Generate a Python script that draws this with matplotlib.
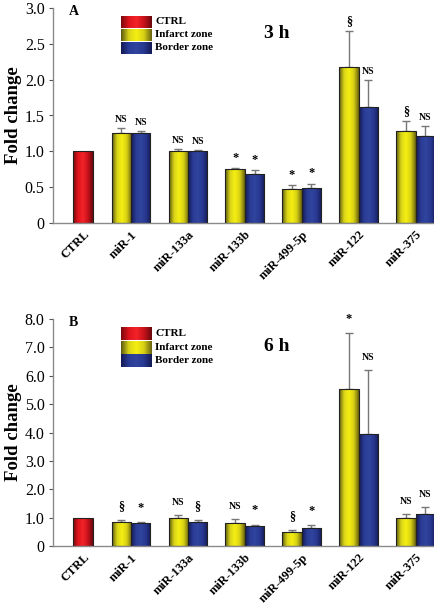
import matplotlib
matplotlib.use('Agg')
import matplotlib.pyplot as plt
from matplotlib.colors import LinearSegmentedColormap
import numpy as np

plt.rcParams['font.family'] = ['Liberation Serif', 'DejaVu Serif']

# data
mirnas = ['miR-1', 'miR-133a', 'miR-133b', 'miR-499-5p', 'miR-122', 'miR-375']
ctrl_val = 1.0

inf_3h = [1.26, 1.01, 0.75, 0.47, 2.18, 1.29]
inf_3h_err = [0.06, 0.02, 0.02, 0.06, 0.50, 0.13]
bor_3h = [1.25, 1.00, 0.69, 0.49, 1.62, 1.22]
bor_3h_err = [0.03, 0.02, 0.05, 0.06, 0.37, 0.13]
inf_3h_sig = ['NS', 'NS', '*', '*', '§', '§']
bor_3h_sig = ['NS', 'NS', '*', '*', 'NS', 'NS']

inf_6h = [0.83, 0.97, 0.82, 0.50, 5.55, 1.00]
inf_6h_err = [0.07, 0.11, 0.12, 0.06, 1.94, 0.12]
bor_6h = [0.80, 0.83, 0.70, 0.62, 3.93, 1.13]
bor_6h_err = [0.05, 0.07, 0.05, 0.12, 2.27, 0.23]
inf_6h_sig = ['§', 'NS', 'NS', '§', '*', 'NS']
bor_6h_sig = ['*', '§', '*', '*', 'NS', 'NS']

cmap_red = LinearSegmentedColormap.from_list('r', ['#7a0a0e', '#e0141c', '#f4232a', '#c8121a', '#6a080c'])
cmap_yel = LinearSegmentedColormap.from_list('y', ['#5e5a10', '#d8d418', '#f6ef12', '#d6cf14', '#6a6410'])
cmap_blu = LinearSegmentedColormap.from_list('b', ['#141a55', '#2a3c96', '#30449e', '#283890', '#141a55'])
grad = np.linspace(0, 1, 64).reshape(1, -1)

W = 0.34
ctrl_x = 0.16
gx = np.arange(1, len(mirnas) + 1)


def grad_bars(ax, x, h, cmap):
    bars = ax.bar(x, h, width=W, facecolor='none', edgecolor='#222222', linewidth=0.8, zorder=3)
    for b in bars:
        x0, y0 = b.get_x(), b.get_y()
        im = ax.imshow(grad, cmap=cmap, aspect='auto', zorder=2,
                       extent=[x0, x0 + b.get_width(), y0, y0 + b.get_height()])
        im.set_clip_path(b)
    return bars


def panel(ax, inf, inf_err, bor, bor_err, inf_sig, bor_sig, ymax, yticks, ylabels,
          letter, title, off):
    grad_bars(ax, [ctrl_x], [ctrl_val], cmap_red)
    xi = gx - W / 2
    xb = gx + W / 2
    grad_bars(ax, xi, inf, cmap_yel)
    grad_bars(ax, xb, bor, cmap_blu)
    z = np.zeros(len(inf))
    ax.errorbar(xi, inf, yerr=[z, inf_err], fmt='none', ecolor='#777777', elinewidth=1,
                capsize=3, capthick=1, zorder=1)
    ax.errorbar(xb, bor, yerr=[z, bor_err], fmt='none', ecolor='#777777', elinewidth=1,
                capsize=3, capthick=1, zorder=1)
    for x, y, e, s in list(zip(xi, inf, inf_err, inf_sig)) + list(zip(xb, bor, bor_err, bor_sig)):
        fs = 7 if s == 'NS' else 9
        ax.annotate(s, (x, y + e), xytext=(0, off), textcoords='offset points',
                    ha='center', va='bottom', fontsize=fs, fontweight='bold')

    ax.set_xlim(-0.37, 6.34)
    ax.set_ylim(0, ymax)
    ax.set_yticks(yticks)
    ax.set_yticklabels(ylabels, fontsize=11.5)
    ax.set_xticks([ctrl_x] + list(gx))
    ax.set_xticklabels(['CTRL'] + mirnas, rotation=45, ha='right', rotation_mode='anchor',
                       fontsize=9, fontweight='bold')
    ax.tick_params(axis='x', length=0, pad=4)
    ax.tick_params(axis='y', length=3, width=0.8, color='#555555', pad=3)
    for s in ['top', 'right']:
        ax.spines[s].set_visible(False)
    for s in ['left', 'bottom']:
        ax.spines[s].set_color('#8a8a8a')
        ax.spines[s].set_linewidth(1)
    ax.set_ylabel('Fold change', fontsize=13.5, fontweight='bold')
    ax.yaxis.set_label_coords(-0.082, 0.5)

    ax.text(0.042, 0.985, letter, transform=ax.transAxes, fontsize=10, fontweight='bold',
            ha='left', va='center')
    ax.text(0.585, 0.88, title, transform=ax.transAxes, fontsize=14, fontweight='bold',
            ha='center', va='center')

    # legend with gradient swatches
    rows = [('CTRL', cmap_red), ('Infarct zone', cmap_yel), ('Border zone', cmap_blu)]
    for i, (lab, cm_) in enumerate(rows):
        yc = 0.935 - i * 0.06
        ax.imshow(grad, cmap=cm_, aspect='auto', transform=ax.transAxes,
                  extent=[0.178, 0.257, yc - 0.027, yc + 0.027], zorder=4)
        ax.text(0.268, yc, lab, transform=ax.transAxes, fontsize=8, fontweight='bold',
                ha='left', va='center')
    ax.set_xlim(-0.37, 6.34)
    ax.set_ylim(0, ymax)


fig = plt.figure(figsize=(4.35, 6.07), dpi=100)
H = 607.0
ax1 = fig.add_axes([53 / 435, 1 - 223 / H, 1 - 53 / 435, (223 - 8) / H])
ax2 = fig.add_axes([53 / 435, 1 - 546 / H, 1 - 53 / 435, (546 - 319) / H])

panel(ax1, inf_3h, inf_3h_err, bor_3h, bor_3h_err, inf_3h_sig, bor_3h_sig, 3.0,
      [0, 0.5, 1.0, 1.5, 2.0, 2.5, 3.0], ['0', '0.5', '1.0', '1.5', '2.0', '2.5', '3.0'],
      'A', '3 h', 3)
panel(ax2, inf_6h, inf_6h_err, bor_6h, bor_6h_err, inf_6h_sig, bor_6h_sig, 8.0,
      list(range(9)), ['0'] + ['%.1f' % v for v in range(1, 9)],
      'B', '6 h', 6)

fig.savefig('out.png', dpi=100)
